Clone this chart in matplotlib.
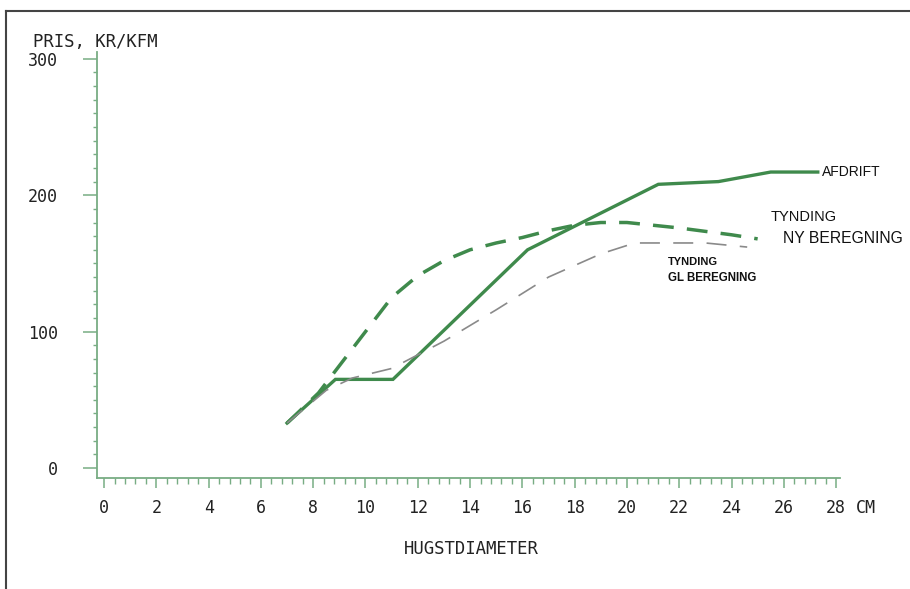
import numpy as np
import matplotlib
matplotlib.use("Agg")
import matplotlib.pyplot as plt
from matplotlib.lines import Line2D
from matplotlib.ticker import MultipleLocator

# AFDRIFT (solid)
afd_x = [7.0, 8.85, 11.05, 16.2, 21.2, 23.5, 25.5, 27.3]
afd_y = [33, 65, 65, 160, 208, 210, 217, 217]
# TYNDING NY BEREGNING (thick dashed)
ny_x = [7.0, 8.2, 9.0, 10.0, 11.0, 12.0, 13.0, 14.0, 15.0, 16.0, 17.0, 18.0, 19.0, 20.0, 22.0, 24.0, 25.0]
ny_y = [33, 55, 75, 100, 125, 141, 152, 160, 165, 169, 174, 178, 180, 180, 176, 171, 168]
# TYNDING GL BEREGNING (thin dashed)
gl_x = [7.0, 8.5, 9.5, 11.0, 13.0, 15.0, 17.0, 19.0, 20.3, 23.0, 24.6]
gl_y = [33, 57, 66, 73, 93, 116, 140, 157, 165, 165, 162]

green = "#3f8a4c"
axis_green = "#78ad84"
txt = "#222222"
mono = "DejaVu Sans Mono"

fig = plt.figure(figsize=(9.1, 5.89), dpi=100)
ax = fig.add_axes([97/910, 1-478/589, (840-97)/910, (478-52)/589])

ax.plot(afd_x, afd_y, color=green, lw=2.4, solid_joinstyle="miter")
ax.plot(ny_x, ny_y, color=green, lw=2.5, dashes=(6, 3.8))
ax.plot(gl_x, gl_y, color="#8a8a8a", lw=1.2, dashes=(12, 8))

ax.set_xlim(-0.27, 28.15)
ax.set_ylim(-7.3, 305)

for s in ["top", "right"]:
    ax.spines[s].set_visible(False)
for s in ["left", "bottom"]:
    ax.spines[s].set_color(axis_green)
    ax.spines[s].set_linewidth(1.3)

ax.xaxis.set_major_locator(MultipleLocator(2))
ax.xaxis.set_minor_locator(MultipleLocator(0.4))
ax.yaxis.set_major_locator(MultipleLocator(100))
ax.yaxis.set_minor_locator(MultipleLocator(10))
ax.tick_params(axis="x", which="major", length=7, width=1.1, color=axis_green,
               pad=8, labelsize=12, labelcolor=txt)
ax.tick_params(axis="x", which="minor", length=4, width=1.0, color=axis_green)
ax.tick_params(axis="y", which="major", length=10, width=1.1, color=axis_green,
               pad=18, labelsize=12, labelcolor=txt)
ax.tick_params(axis="y", which="minor", length=3, width=1.0, color=axis_green)
for lab in ax.get_xticklabels() + ax.get_yticklabels():
    lab.set_fontfamily(mono)

fig.text(33/910, 1-42/589, "PRIS, KR/KFM", fontfamily=mono, fontsize=12.4,
         color=txt, va="center", ha="left")
fig.text(856/910, 1-508/589, "CM", fontfamily=mono, fontsize=12,
         color=txt, va="center", ha="left")
fig.text(471/910, 1-549/589, "HUGSTDIAMETER", fontfamily=mono, fontsize=12.4,
         color=txt, va="center", ha="center")

lab_font = "Liberation Sans"
ax.text(27.47, 217, "AFDRIFT", fontfamily=lab_font, fontsize=10, color="#111111",
        va="center", ha="left")
ax.text(25.48, 184, "TYNDING", fontfamily=lab_font, fontsize=10.5, color="#111111",
        va="center", ha="left")
ax.text(25.98, 168, "NY BEREGNING", fontfamily=lab_font, fontsize=11.3, color="#111111",
        va="center", ha="left")
ax.text(21.58, 151, "TYNDING", fontfamily=lab_font, fontsize=8, fontweight="bold",
        color="#111111", va="center", ha="left")
ax.text(21.58, 139, "GL BEREGNING", fontfamily=lab_font, fontsize=8.3, fontweight="bold",
        color="#111111", va="center", ha="left")

# scan frame
fig.add_artist(Line2D([6/910, 1.0], [1-11/589, 1-11/589], color="#444444", lw=1.5))
fig.add_artist(Line2D([6/910, 6/910], [1-11/589, 0.0], color="#444444", lw=1.5))

fig.savefig("out.png", dpi=100)
